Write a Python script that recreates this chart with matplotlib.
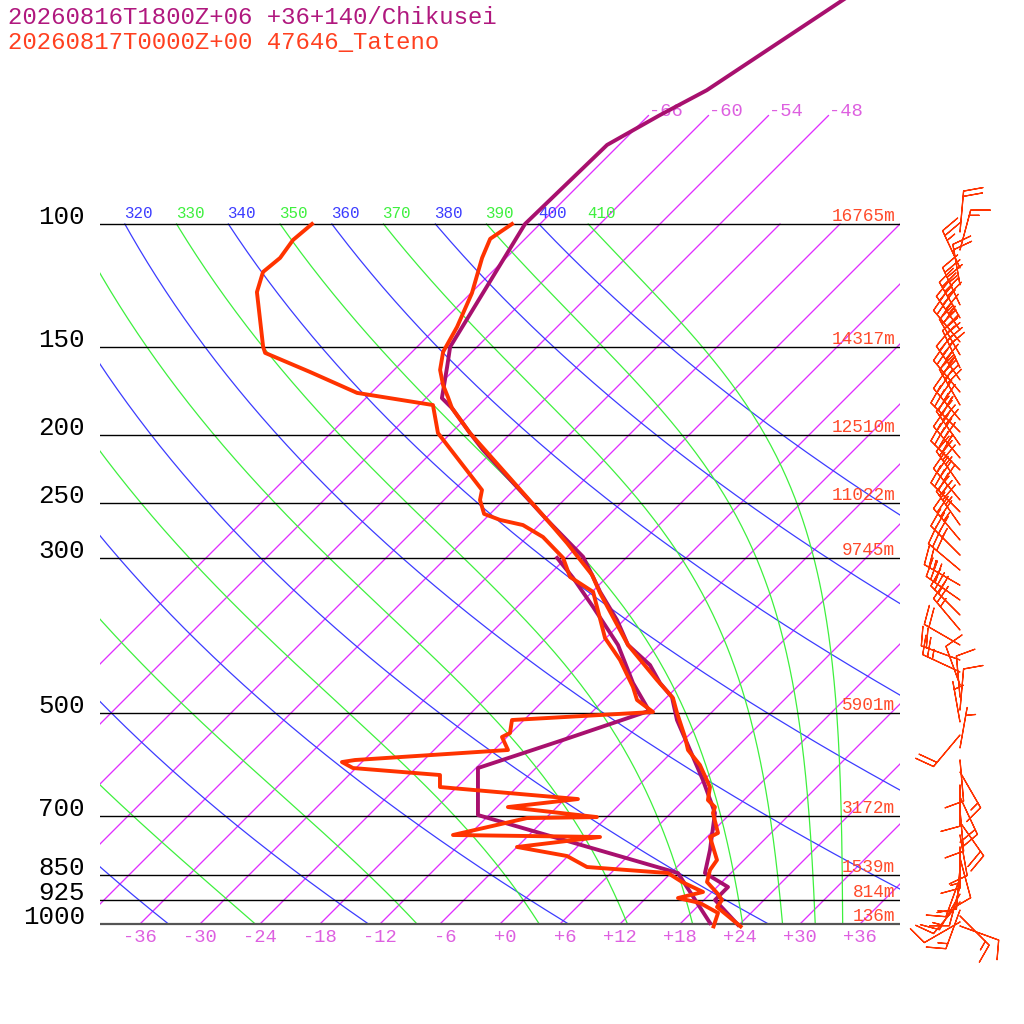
import numpy as np
import matplotlib
matplotlib.use("Agg")
import matplotlib.pyplot as plt
from matplotlib.transforms import offset_copy

# ---------------- data ----------------
title_model = "20260816T1800Z+06 +36+140/Chikusei"
title_obs = "20260817T0000Z+00 47646_Tateno"

mandatory_p = [1000, 925, 850, 700, 500, 300, 250, 200, 150, 100]
mandatory_labels = ["1000", "925", "850", "700", "500", "300", "250", "200", "150", "100"]
obs_heights = ["136m", "814m", "1539m", "3172m", "5901m", "9745m", "11022m", "12510m", "14317m", "16765m"]

# Chikusei (model) temperature / dewpoint  [hPa, degC]
chik_t_p = [46, 64.4, 69.9, 77.1, 100, 149.8, 160, 177.3, 183.2, 198.9, 210.3, 264.7, 298.9,
            319.3, 335.4, 367.9, 399.4, 426.6, 452.6, 474.0, 511.2, 551.4, 622.8, 694.2, 784,
            845.7, 885.4, 924.1, 1003]
chik_t = [-57.5, -62.7, -64.9, -67.2, -67.5, -62.7, -61.0, -58.4, -56.4, -52.1, -49.1, -35.7, -28.4,
          -25.4, -23.2, -18.7, -15.1, -10.9, -8.1, -5.5, -2.7, 0.6, 5.9, 10.4, 13.6,
          15.4, 19.1, 19.1, 23.9]
chik_td_p = [299.9, 320.3, 352.4, 399.4, 452.6, 496, 545.9, 598.7, 698.8, 845.7, 996.7]
chik_td = [-30.9, -27.3, -22.4, -16.1, -10.8, -6.4, -12.1, -17.8, -13.1, 12.7, 20.9]

# Tateno (observed) temperature / dewpoint
tat_t_p = [100, 105, 111.8, 125.5, 140.3, 152.3, 161.6, 169.8, 176.7, 183.2, 198.9, 264.7, 285.6,
           317.2, 336.6, 399.4, 448.2, 475.5, 499.5, 540.6, 564.2, 592.8, 637.3, 665.2, 680.7,
           694.2, 741.3, 751.1, 810.2, 837.3, 870.9, 903, 924.1, 945.6, 1008]
tat_t = [-68.8, -69.5, -68.4, -65.9, -64.0, -62.9, -61.4, -59.6, -57.9, -56.4, -52.1, -35.7, -31.4,
         -25.7, -23.1, -15.1, -8.7, -5.3, -3.4, -0.2, 1.4, 4.1, 7.3, 8.4, 9.8,
         10.2, 12.7, 12.3, 15.3, 15.6, 16.5, 18.6, 19.8, 20.0, 24.3]
tat_td_p = [100, 105.4, 111.8, 117.1, 125.1, 149.8, 152.8, 162.7, 174.3, 181.4, 198.9, 239.9, 247.9,
            259.5, 264.7, 269.2, 280, 299.9, 319.3, 335.4, 390.3, 419.6, 458.6, 478.6, 497.9, 511.2,
            533.5, 540.6, 564.2, 583.1, 587.0, 598.7, 612.6, 637.3, 663.0, 680.7, 703.5, 705.8,
            746.2, 751.1, 776.2, 799.6, 829.1, 845.7, 870.9, 900, 918.1, 933.3, 964.4, 1008]
tat_td = [-88.8, -89.1, -88.6, -88.9, -87.5, -81.4, -80.6, -74.2, -67.4, -58.6, -55.3, -45.2, -44.4,
          -42.6, -40.4, -37.6, -34.4, -30.3, -27.7, -23.9, -18.1, -14.4, -10.4, -8.7, -5.9, -19.2,
          -18.1, -18.5, -16.6, -30.9, -32.0, -30.3, -20.9, -19.7, -4.7, -10.9, -1.0, -7.9,
          -13.6, 1.3, -6.0, -0.1, 3.0, 11.7, 14.0, 17.1, 15.2, 17.9, 20.7, 21.6]

# Tateno winds (direction from, deg; speed, kt)
wind_p = [102.7, 108.9, 115.6, 122.2, 130.5, 136.2, 141.7, 147.4, 153.8, 160.5, 167.0, 173.8,
          181.4, 190.5, 198.2, 206.9, 215.9, 224.6, 236.0, 247.9, 257.8, 269.2, 282.8, 297.1,
          312.2, 328.1, 344.5, 361.9, 380.2, 399.4, 419.6, 436.5, 455.6, 474.0, 494.6, 514.6,
          537.0, 560.5, 583.1, 606.5, 633.1, 658.6, 687.5, 715.2, 746.2, 776.2, 804.9, 831.8,
          859.6, 882.4, 906.1, 930.2, 955.0, 974.0, 993.4, 1006.6]
wind_dir = [5, 15, 335, 350, 335, 330, 325, 320, 330, 335, 325, 320,
            330, 320, 315, 325, 320, 315, 325, 320, 315, 325, 320, 315,
            310, 300, 305, 315, 320, 300, 290, 295, 340, 355, 5, 350,
            220, 10, 175, 150, 180, 155, 175, 145, 170, 180, 165, 185,
            200, 195, 210, 220, 200, 135, 240, 110]
wind_kt = [20, 15, 25, 20, 35, 40, 45, 40, 35, 40, 45, 45,
           40, 45, 45, 40, 45, 40, 35, 40, 35, 35, 35, 35,
           30, 25, 30, 30, 25, 20, 20, 25, 10, 10, 10, 5,
           20, 5, 10, 15, 10, 20, 10, 20, 10, 15, 10, 10,
           15, 10, 15, 10, 15, 15, 10, 10]

isotherm_T = list(range(-66, 37, 6))
isotherm_top_T = [-66, -60, -54, -48]
bottom_T = list(range(-36, 37, 6))
dry_theta = list(range(240, 401, 20))
moist_thetae = list(range(250, 411, 20))

# ---------------- style ----------------
C_MODEL = "#a8106e"
C_OBS = "#ff3300"
C_ISO = "#e030ff"
C_ISO_LAB = "#dd5fe0"
C_DRY = "#3c3cff"
C_MOIST = "#3ef03e"
MONO = "Liberation Mono"
SKEW = 70.0


def skew(T, p):
    return np.asarray(T, float) + SKEW * np.log10(1000.0 / np.asarray(p, float))


def theta_e(T, p):
    Tc = T - 273.15
    es = 6.112 * np.exp(17.67 * Tc / (Tc + 243.5))
    rs = 0.622 * es / np.maximum(p - es, 1e-3)
    return T * (1000.0 / p) ** 0.286 * np.exp(2.5e6 * rs / (1004.0 * T))


def moist_T(the, p):
    lo = np.full_like(p, 120.0)
    hi = np.full_like(p, 330.0)
    for _ in range(60):
        mid = 0.5 * (lo + hi)
        big = theta_e(mid, p) > the
        hi = np.where(big, mid, hi)
        lo = np.where(big, lo, mid)
    return 0.5 * (lo + hi) - 273.15


fig = plt.figure(figsize=(10.24, 10.24), dpi=100)
p_bot = 1000.0 * 10 ** (11 / 700)
p_top = 1000.0 * 10 ** (-924 / 700)
ax = fig.add_axes([100 / 1024, (1024 - 935) / 1024, 800 / 1024, 935 / 1024])
ax.set_yscale("log")
ax.set_xlim(-40, 40)
ax.set_ylim(p_bot, p_top)
ax.axis("off")

pg = np.logspace(3, 2, 200)

# isotherms
for T in isotherm_T:
    ptop = 70 if T in isotherm_top_T else 100
    pp = np.array([1000, ptop])
    ax.plot(skew([T, T], pp), pp, color=C_ISO, lw=0.95, zorder=1)

lab_tr = offset_copy(ax.transData, fig=fig, x=-1, y=6, units="dots")


def theta_label(X, txt, col):
    if X > -45:
        ax.text(X, 100, txt, transform=lab_tr, ha="left", va="baseline",
                color=col, fontsize=11.4, family=MONO, clip_on=True)


# dry adiabats
for th in dry_theta:
    T = th * (pg / 1000.0) ** 0.286 - 273.15
    X = skew(T, pg)
    ax.plot(X, pg, color=C_DRY, lw=0.9, zorder=1)
    theta_label(X[-1], str(th), C_DRY)

# moist adiabats
for te in moist_thetae:
    T = moist_T(te, pg)
    X = skew(T, pg)
    ax.plot(X, pg, color=C_MOIST, lw=0.9, zorder=1)
    theta_label(X[-1], str(te), C_MOIST)

# pressure lines and labels
for p, lab, h in zip(mandatory_p, mandatory_labels, obs_heights):
    if p == 1000:
        ax.axhline(p, color="#555555", lw=1.6, zorder=2)
    else:
        ax.axhline(p, color="black", lw=1.0, zorder=2)
    ax.annotate(lab, xy=(-40, p), xytext=(-15, 0), textcoords="offset pixels",
                ha="right", va="baseline", fontsize=18.6, family=MONO,
                color="black", annotation_clip=False)
    ax.annotate(h, xy=(40, p), xytext=(-5, 3), textcoords="offset pixels",
                ha="right", va="baseline", fontsize=12.8, family=MONO,
                color="#ff4a2a", annotation_clip=False)

# isotherm labels
for T in isotherm_top_T:
    ax.annotate(f"{T:d}", xy=(skew(T, 70), 70), xytext=(1, 0), textcoords="offset pixels",
                ha="left", va="baseline", fontsize=13.5, family=MONO, color=C_ISO_LAB,
                annotation_clip=False)
for T in bottom_T:
    ax.annotate(f"{T:+d}", xy=(T, 1000), xytext=(16.5, -13), textcoords="offset pixels",
                ha="right", va="center", fontsize=13.5, family=MONO, color=C_ISO_LAB,
                annotation_clip=False)

# profiles
ax.plot(skew(chik_td, chik_td_p), chik_td_p, color=C_MODEL, lw=2.8, zorder=4)
ax.plot(skew(chik_t, chik_t_p), chik_t_p, color=C_MODEL, lw=2.8, zorder=4)
ax.plot(skew(tat_td, tat_td_p), tat_td_p, color=C_OBS, lw=2.8, zorder=5)
ax.plot(skew(tat_t, tat_t_p), tat_t_p, color=C_OBS, lw=2.8, zorder=5)

# wind barbs
wd = np.radians(wind_dir)
ws = np.asarray(wind_kt, float)
u = -ws * np.sin(wd)
v = -ws * np.cos(wd)
xb = np.full(len(wind_p), (960 - 500) / 10.0)
ax.barbs(xb, wind_p, u, v, length=7.7, color=C_OBS, linewidth=0.9,
         sizes=dict(height=0.46, spacing=0.13), clip_on=False, zorder=6)

# titles
fig.text(8 / 1024, 1 - 17 / 1024, title_model, ha="left", va="center",
         fontsize=17.3, family=MONO, color="#b0187e")
fig.text(8 / 1024, 1 - 42 / 1024, title_obs, ha="left", va="center",
         fontsize=17.3, family=MONO, color="#ff4020")

fig.savefig("out.png", dpi=100, facecolor="white")
